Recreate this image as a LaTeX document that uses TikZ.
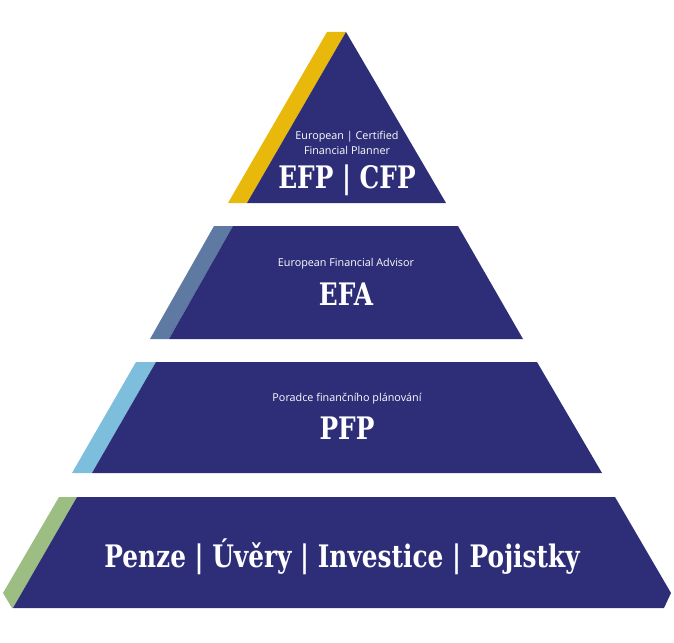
\documentclass[tikz,border=0pt]{standalone}
\usepackage{fontspec}
\setsansfont{Open Sans}
\newfontfamily\titlefont[FakeStretch=0.8]{DejaVu Serif}
\usepackage{tikz}
\usetikzlibrary{positioning}

\definecolor{navy}{HTML}{2D2E77}
\definecolor{gold}{HTML}{E8B90A}
\definecolor{steel}{HTML}{5F7AA2}
\definecolor{sky}{HTML}{7DBEDC}
\definecolor{sage}{HTML}{9DBE82}

\begin{document}
\begin{tikzpicture}[
    x=1pt, y=-1pt,
    tier/.style={fill=navy},
    subtitle/.style={text=white, align=center, inner sep=0pt, font=\sffamily\fontsize{10.8}{15.5}\selectfont},
    title/.style={text=white, inner sep=0pt, font=\titlefont\bfseries\fontsize{31}{31}\selectfont}
]
\useasboundingbox (0,0) rectangle (674,642);

% top: EFP | CFP
\fill[gold] (327,32) -- (346,32) -- (247,203) -- (228,203) -- cycle;
\fill[tier] (346,32) -- (446,203) -- (247,203) -- cycle;
\node[subtitle] (efptext) at (347,143) {European | Certified\\Financial Planner};
\node[title] (efp) at (347,180) {EFP | CFP};

% second: EFA
\fill[steel] (214,226) -- (233,226) -- (169,339) -- (150,339) -- cycle;
\fill[tier] (233,226) -- (458,226) -- (523,339) -- (169,339) -- cycle;
\node[subtitle] (efatext) at (346,264) {European Financial Advisor};
\node[title] (efa) at (346,294) {EFA};

% third: PFP
\fill[sky] (136,362) -- (156,362) -- (92,473) -- (72,473) -- cycle;
\fill[tier] (156,362) -- (537,362) -- (602,473) -- (92,473) -- cycle;
\node[subtitle] (pfptext) at (347,399) {Poradce finančního plánování};
\node[title] (pfp) at (347,428) {PFP};

% base
\fill[sage] (59,497) -- (77,497) -- (13,608) -- (12,608) -- (3,593) -- cycle;
\fill[tier] (77,497) -- (615,497) -- (671,593) -- (664,608) -- (13,608) -- cycle;
\node[title] (base) at (342,557) {Penze | Úvěry | Investice | Pojistky};
\end{tikzpicture}
\end{document}
